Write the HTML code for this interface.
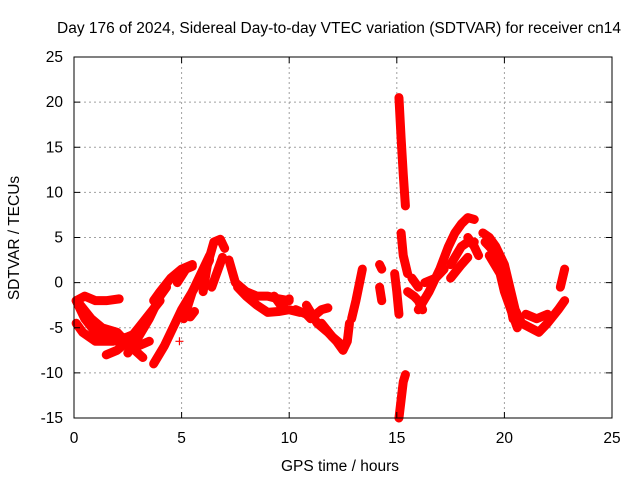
<!DOCTYPE html>
<html><head><meta charset="utf-8"><style>
body{margin:0;background:#fff}
svg text{font-family:"Liberation Sans",sans-serif;font-size:15.5px;fill:#000}
</style></head><body>
<svg id="chart" width="640" height="480" viewBox="0 0 640 480" xmlns="http://www.w3.org/2000/svg">
<rect width="640" height="480" fill="#fff"/>
<text x="339" y="33" text-anchor="middle">Day 176 of 2024, Sidereal Day-to-day VTEC variation (SDTVAR) for receiver cn14</text>
<g id="grid"></g>
<g id="marks"></g>
<rect x="74" y="57" width="538" height="361" fill="none" stroke="#000" stroke-width="1"/>
<g id="ticks"></g>
<text x="340" y="471" text-anchor="middle">GPS time / hours</text>
<text x="19" y="238" text-anchor="middle" transform="rotate(-90 19 238)">SDTVAR / TECUs</text>
</svg>
<script>
const xTicks=[0,5,10,15,20,25];
const yTicks=[-15,-10,-5,0,5,10,15,20,25];
const t1=[[0.1,-2],[0.5,-1.5],[1,-2],[1.5,-2],[2.1,-1.8]];
const t2=[[0.1,-2],[0.5,-4],[1,-5.5],[1.5,-6],[2,-6.5],[2.5,-6.5],[3,-7],[3.5,-6.5]];
const t3=[[0.1,-4.5],[0.4,-5.5],[1,-6.5],[1.8,-6.5],[2.5,-6],[3,-5.5]];
const t4=[[1.5,-8],[2,-7.5],[2.5,-6.5],[3,-5],[3.5,-3.5],[4,-2]];
const t5=[[0.3,-2.5],[0.8,-4],[1.3,-5],[2,-5.5],[2.6,-7],[3.2,-8.3]];
const t6=[[2.5,-7.8],[3,-6],[3.5,-4],[4,-1.5],[4.3,-0.5]];
const t7=[[3.7,-9],[4.2,-7],[4.6,-5],[5,-3],[5.5,-1],[6,1],[6.3,2.5]];
const t8=[[3.7,-2],[4,-1],[4.5,0.5],[5,1.5],[5.5,2]];
const t9=[[4.8,0],[5.2,1.5],[5.5,1.8]];
const t10=[[5.1,-4],[5.5,-1],[6,1.5],[6.3,3]];
const t11=[[5.4,-3.8],[5.6,-3.2]];
const t12=[[6,-1],[6.2,2],[6.5,4.5],[6.8,4.8],[7,3.8]];
const t13=[[6.4,-0.5],[6.7,1.5],[6.9,2.8]];
const t14=[[7.2,2.5],[7.5,0],[8,-1],[8.5,-1.5],[9,-1.5],[9.5,-1.8],[10,-2]];
const t15=[[7.6,-0.5],[8,-1.5],[8.5,-2.5],[9,-3.3],[9.5,-3.2],[10,-3],[10.5,-3.3]];
const t16=[[9.3,-1.5],[9.6,-2.5],[10,-1.8]];
const t17=[[10.3,-3],[10.8,-3.5],[11,-4],[11.5,-3],[11.8,-2.8]];
const t18=[[10.8,-2.5],[11.3,-4.5],[11.8,-5.5],[12.2,-6.5],[12.5,-7.5],[12.7,-6.5],[12.8,-4.5]];
const t19=[[11.5,-4.5],[12,-6],[12.5,-7]];
const t20=[[12.9,-4],[13.1,-2],[13.4,1.5]];
const t21=[[14.2,2],[14.3,1.5]];
const t22=[[14.2,-0.5],[14.3,-2]];
const t23=[[14.9,1],[15,-1],[15.1,-3.5]];
const t24=[[15.1,20.5],[15.2,16],[15.3,12],[15.4,8.5]];
const t25=[[15.1,-15],[15.2,-13],[15.3,-11],[15.4,-10.2]];
const t26=[[15.2,5.5],[15.3,3],[15.5,1]];
const t27=[[15.5,-1],[15.8,-1.5],[16,-2],[16.2,-3]];
const t28=[[15.7,0.5],[16,-0.5]];
const t29=[[16,-3],[16.5,-1],[17,1.5],[17.4,4],[17.7,5.5],[18,6.5],[18.3,7.2],[18.6,7]];
const t30=[[16.3,0],[16.8,0.5],[17.2,1.5]];
const t31=[[17.5,2],[18,4],[18.3,4.5],[18.6,4.5]];
const t32=[[17.5,0.5],[18,2],[18.3,2.8]];
const t33=[[18.3,5],[18.6,4],[18.8,3]];
const t34=[[19,5.5],[19.3,5],[19.6,4],[20,2],[20.3,-1],[20.5,-3],[20.8,-4.5],[21.2,-5],[21.6,-5.5],[22,-4.5],[22.5,-3],[22.8,-2]];
const t35=[[19.3,3],[19.8,1],[20,-1],[20.3,-3],[20.6,-5]];
const t36=[[21,-3.5],[21.5,-4],[22,-3.5]];
const t37=[[22.6,-0.5],[22.8,1.5]];
const t38=[[19.1,4.5],[19.5,3.5],[19.9,1.5],[20.2,-1.5],[20.4,-4]];
const tracks=[t1,t2,t3,t4,t5,t6,t7,t8,t9,t10,t11,t12,t13,t14,t15,t16,t17,t18,t19,t20,t21,t22,t23,t24,t25,t26,t27,t28,t29,t30,t31,t32,t33,t34,t35,t36,t37,t38];
const outliers=[[4.9,-6.5]];
const NS="http://www.w3.org/2000/svg";
const X0=74,X1=612,Y0=418,Y1=57;
function sx(v){return X0+(v-0)/(25-0)*(X1-X0);}
function sy(v){return Y0-(v-(-15))/(25-(-15))*(Y0-Y1);}
const grid=document.getElementById('grid'),ticks=document.getElementById('ticks'),marks=document.getElementById('marks');
function mk(tag,attrs,parent){const e=document.createElementNS(NS,tag);for(const k in attrs)e.setAttribute(k,attrs[k]);parent.appendChild(e);return e;}
xTicks.forEach(v=>{const x=sx(v);
 if(v>0&&v<25){const g=mk('line',{x1:x,x2:x,y1:Y1,y2:Y0,stroke:'#a0a0a0','stroke-dasharray':'2,3'},grid);
 
 }
 const a=mk('line',{x1:x,x2:x,y1:Y0,y2:Y0-6,stroke:'#000'},ticks);
 
 
 const b=mk('line',{x1:x,x2:x,y1:Y1,y2:Y1+6,stroke:'#000'},ticks);
 
 
 const t=mk('text',{x:x,y:443,'text-anchor':'middle'},ticks);t.textContent=v;
 
 
});
yTicks.forEach(v=>{const y=sy(v);
 if(v>-15&&v<25){const g=mk('line',{x1:X0,x2:X1,y1:y,y2:y,stroke:'#a0a0a0','stroke-dasharray':'2,3'},grid);
 
 }
 const a=mk('line',{x1:X0,x2:X0+6,y1:y,y2:y,stroke:'#000'},ticks);
 
 
 const b=mk('line',{x1:X1,x2:X1-6,y1:y,y2:y,stroke:'#000'},ticks);
 
 
 const t=mk('text',{x:63,y:y+5,'text-anchor':'end'},ticks);t.textContent=v;
 
 
});
function plus(x,y){const p=mk('path',{d:`M${x-4} ${y}H${x+4}M${x} ${y-4}V${y+4}`,stroke:'#f00','stroke-width':1.2},marks);
 
 }
tracks.forEach(tr=>{
 const pl=mk('polyline',{points:tr.map(p=>sx(p[0])+','+sy(p[1])).join(' '),fill:'none',stroke:'#f00','stroke-width':9,'stroke-linejoin':'round','stroke-linecap':'round'},marks);
 
 
 tr.forEach(p=>plus(sx(p[0]),sy(p[1])));
});
outliers.forEach(p=>plus(sx(p[0]),sy(p[1])));
</script>
</body></html>
